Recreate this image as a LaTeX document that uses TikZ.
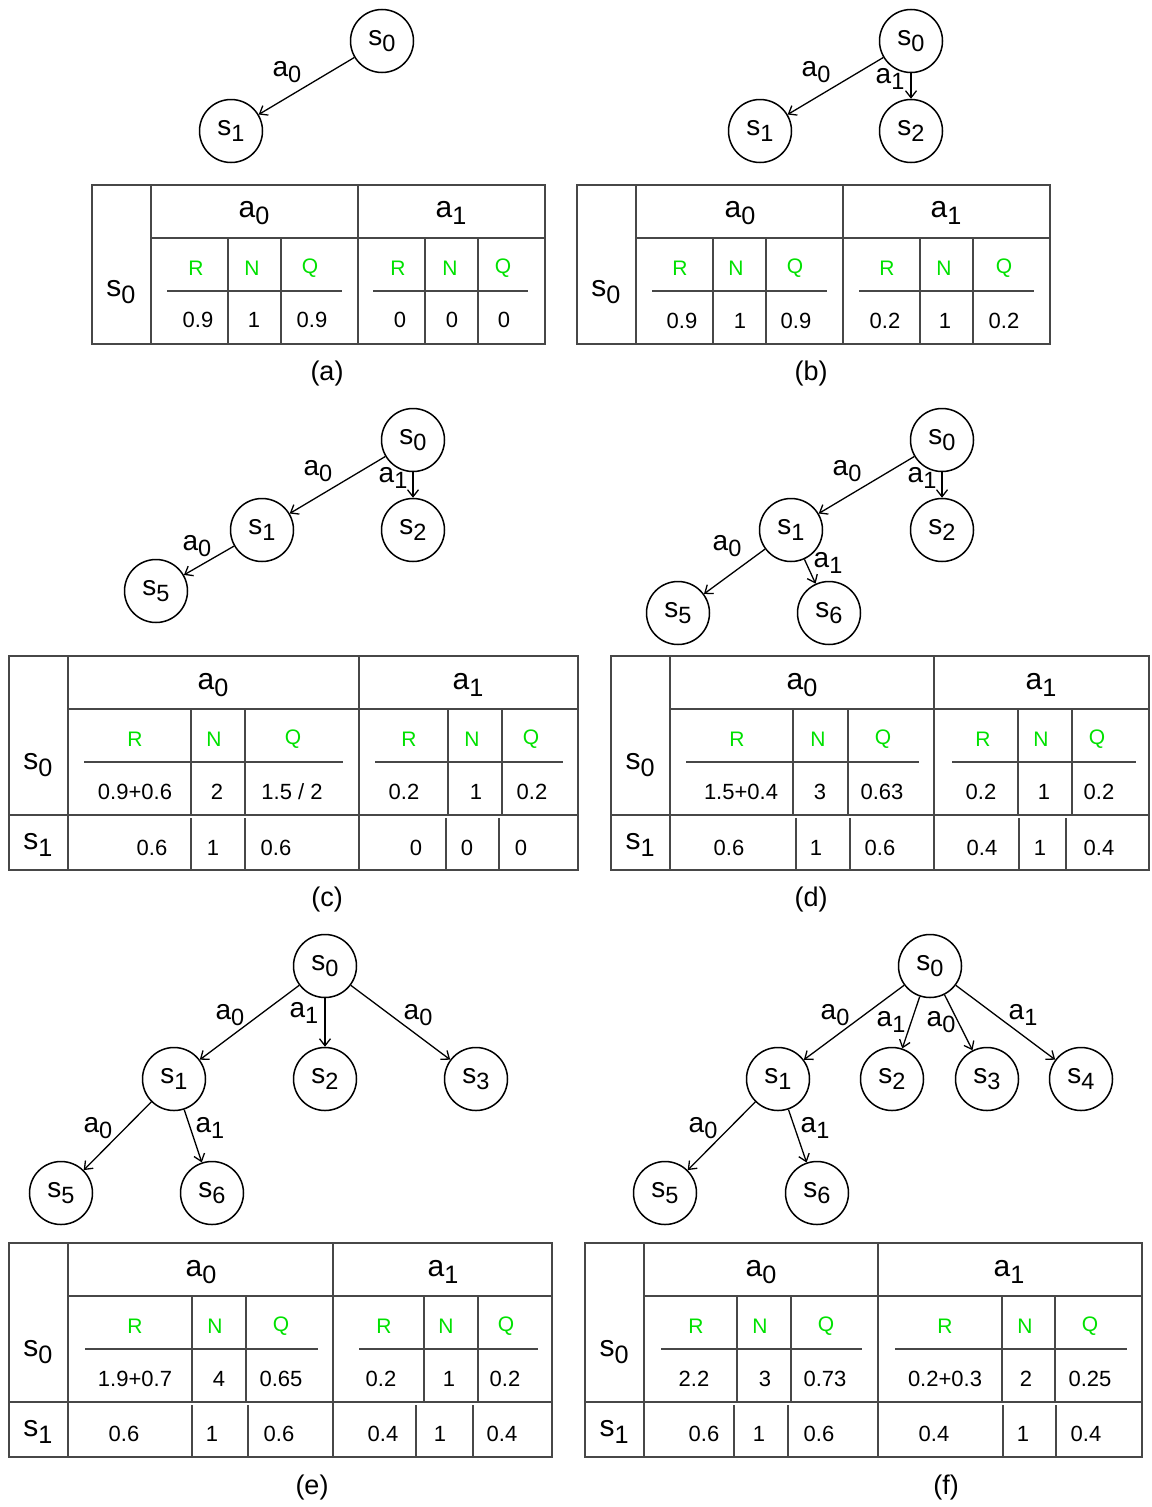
\documentclass[tikz,border=0pt]{standalone}
\usepackage{fontspec}
\setmainfont{Liberation Sans}
\usepackage{graphicx}
\usetikzlibrary{arrows.meta}
\definecolor{lg}{RGB}{0,225,0}
\newcommand\fs[1]{\fontsize{#1}{#1}\selectfont}
\newcommand\ssub[1]{\raisebox{-0.22em}{\scalebox{0.84}{#1}}}
\begin{document}
\begin{tikzpicture}[x=1pt,y=-1pt,
  st/.style={circle,draw,line width=1.5pt,minimum size=63pt,inner sep=0pt,font=\fs{28}},
  el/.style={inner sep=0pt,font=\fs{28}},
  ar/.style={line width=1.3pt,-{Straight Barb[length=7pt,width=11pt]}},
  tl/.style={line width=1.1pt,draw=black!72},
  hd/.style={inner sep=0pt,font=\fs{30}},
  rq/.style={inner sep=0pt,font=\fs{21},text=lg},
  vl/.style={inner sep=0pt,font=\fs{22}},
  capt/.style={inner sep=0pt,font=\fs{27}}]
\useasboundingbox (0,0) rectangle (1151,1507);
\fill[white] (0,0) rectangle (1151,1507);

% ================= (a) =================
\node[st] (a0) at (382,41) {s\ssub0};
\node[st] (a1) at (231,131) {s\ssub1};
\draw[ar] (a0) -- (a1);
\node[el] (la1) at (287,72) {a\ssub0};

\draw[tl] (92,185) rectangle (545,344);
\draw[tl] (151,185) -- (151,344);
\draw[tl] (358,185) -- (358,344);
\draw[tl] (151,238) -- (545,238);
\foreach \x in {228,281,425,478} \draw[tl] (\x,238) -- (\x,344);
\draw[tl] (167,291) -- (342,291);
\draw[tl] (373,291) -- (528,291);
\node[hd] (ta-h0) at (254,213) {a\ssub0};
\node[hd] (ta-h1) at (451,213) {a\ssub1};
\node[hd] (ta-s0) at (121,292) {s\ssub0};
\foreach \x/\t [count=\i] in {196/R,252/N,310/Q,398/R,450/N,503/Q}
  \node[rq] (ta-r\i) at (\x,268) {\t};
\foreach \x/\t [count=\i] in {198/0.9,254/1,312/0.9,400/0,452/0,504/0}
  \node[vl] (ta-v\i) at (\x,320) {\t};
\node[capt] (capa) at (327,374) {(a)};

% ================= (b) =================
\node[st] (b0) at (911,41) {s\ssub0};
\node[st] (b1) at (760,131) {s\ssub1};
\node[st] (b2) at (911,131) {s\ssub2};
\draw[ar] (b0) -- (b1);
\draw[ar] (b0) -- (b2);
\node[el] (lb1) at (816,72) {a\ssub0};
\node[el] (lb2) at (890,79) {a\ssub1};

\draw[tl] (577,185) rectangle (1050,344);
\draw[tl] (636,185) -- (636,344);
\draw[tl] (843,185) -- (843,344);
\draw[tl] (636,238) -- (1050,238);
\foreach \x in {713,766,920,973} \draw[tl] (\x,238) -- (\x,344);
\draw[tl] (652,291) -- (827,291);
\draw[tl] (859,291) -- (1034,291);
\node[hd] (tb-h0) at (740,213) {a\ssub0};
\node[hd] (tb-h1) at (946,213) {a\ssub1};
\node[hd] (tb-s0) at (606,292) {s\ssub0};
\foreach \x/\t [count=\i] in {680/R,736/N,795/Q,887/R,944/N,1004/Q}
  \node[rq] (tb-r\i) at (\x,268) {\t};
\foreach \x/\t [count=\i] in {682/0.9,740/1,796/0.9,885/0.2,945/1,1004/0.2}
  \node[vl] (tb-v\i) at (\x,321) {\t};
\node[capt] (capb) at (811,374) {(b)};

% ================= (c) =================
\node[st] (c0) at (413,440) {s\ssub0};
\node[st] (c1) at (262,530) {s\ssub1};
\node[st] (c2) at (413,530) {s\ssub2};
\node[st] (c5) at (156,591) {s\ssub5};
\draw[ar] (c0) -- (c1);
\draw[ar] (c0) -- (c2);
\draw[ar] (c1) -- (c5);
\node[el] (lc1) at (318,471) {a\ssub0};
\node[el] (lc2) at (393,478) {a\ssub1};
\node[el] (lc3) at (197,546) {a\ssub0};

\draw[tl] (9,656) rectangle (578,870);
\draw[tl] (68,656) -- (68,870);
\draw[tl] (359,656) -- (359,870);
\draw[tl] (68,709) -- (578,709);
\draw[tl] (9,815) -- (578,815);
\foreach \x in {191,245,448,502} \draw[tl] (\x,709) -- (\x,815);
\foreach \x in {191,245,446,499} \draw[tl] (\x,818) -- (\x,870);
\draw[tl] (84,762) -- (343,762);
\draw[tl] (375,762) -- (563,762);
\node[hd] (tc-h0) at (213,685) {a\ssub0};
\node[hd] (tc-h1) at (468,685) {a\ssub1};
\node[hd] (tc-s0) at (38,765) {s\ssub0};
\node[hd] (tc-s1) at (38,845) {s\ssub1};
\foreach \x/\t [count=\i] in {135/R,214/N,293/Q,409/R,472/N,531/Q}
  \node[rq] (tc-r\i) at (\x,739) {\t};
\foreach \x/\t [count=\i] in {135/{0.9+0.6},217/2,292/{1.5 / 2},404/0.2,476/1,532/0.2}
  \node[vl] (tc-v\i) at (\x,792) {\t};
\foreach \x/\t [count=\i] in {152/0.6,213/1,276/0.6,416/0,467/0,521/0}
  \node[vl] (tc-w\i) at (\x,848) {\t};
\node[capt] (capc) at (327,900) {(c)};

% ================= (d) =================
\node[st] (d0) at (942,440) {s\ssub0};
\node[st] (d1) at (791,530) {s\ssub1};
\node[st] (d2) at (942,530) {s\ssub2};
\node[st] (d5) at (678,613) {s\ssub5};
\node[st] (d6) at (829,613) {s\ssub6};
\draw[ar] (d0) -- (d1);
\draw[ar] (d0) -- (d2);
\draw[ar] (d1) -- (d5);
\draw[ar] (d1) -- (d6);
\node[el] (ld1) at (847,471) {a\ssub0};
\node[el] (ld2) at (922,478) {a\ssub1};
\node[el] (ld3) at (727,546) {a\ssub0};
\node[el] (ld4) at (828,563) {a\ssub1};

\draw[tl] (611,656) rectangle (1149,870);
\draw[tl] (670,656) -- (670,870);
\draw[tl] (934,656) -- (934,870);
\draw[tl] (670,709) -- (1149,709);
\draw[tl] (611,815) -- (1149,815);
\foreach \x in {793,848,1018,1072} \draw[tl] (\x,709) -- (\x,815);
\foreach \x in {796,850,1019,1066} \draw[tl] (\x,818) -- (\x,870);
\draw[tl] (686,762) -- (919,762);
\draw[tl] (952,762) -- (1136,762);
\node[hd] (td-h0) at (802,685) {a\ssub0};
\node[hd] (td-h1) at (1041,685) {a\ssub1};
\node[hd] (td-s0) at (640,765) {s\ssub0};
\node[hd] (td-s1) at (640,845) {s\ssub1};
\foreach \x/\t [count=\i] in {737/R,818/N,883/Q,983/R,1041/N,1097/Q}
  \node[rq] (td-r\i) at (\x,739) {\t};
\foreach \x/\t [count=\i] in {741/{1.5+0.4},820/3,882/0.63,981/0.2,1044/1,1099/0.2}
  \node[vl] (td-v\i) at (\x,792) {\t};
\foreach \x/\t [count=\i] in {729/0.6,816/1,880/0.6,982/0.4,1040/1,1099/0.4}
  \node[vl] (td-w\i) at (\x,848) {\t};
\node[capt] (capd) at (811,900) {(d)};

% ================= (e) =================
\node[st] (e0) at (325,966) {s\ssub0};
\node[st] (e1) at (174,1079) {s\ssub1};
\node[st] (e2) at (325,1079) {s\ssub2};
\node[st] (e3) at (476,1079) {s\ssub3};
\node[st] (e5) at (61,1193) {s\ssub5};
\node[st] (e6) at (212,1193) {s\ssub6};
\draw[ar] (e0) -- (e1);
\draw[ar] (e0) -- (e2);
\draw[ar] (e0) -- (e3);
\draw[ar] (e1) -- (e5);
\draw[ar] (e1) -- (e6);
\node[el] (le1) at (230,1015) {a\ssub0};
\node[el] (le2) at (304,1013) {a\ssub1};
\node[el] (le3) at (418,1015) {a\ssub0};
\node[el] (le4) at (98,1128) {a\ssub0};
\node[el] (le5) at (210,1128) {a\ssub1};

\draw[tl] (9,1243) rectangle (552,1457);
\draw[tl] (68,1243) -- (68,1457);
\draw[tl] (333,1243) -- (333,1457);
\draw[tl] (68,1296) -- (552,1296);
\draw[tl] (9,1402) -- (552,1402);
\foreach \x in {192,246,424,478} \draw[tl] (\x,1296) -- (\x,1402);
\foreach \x in {192,248,416,473} \draw[tl] (\x,1405) -- (\x,1457);
\draw[tl] (85,1349) -- (318,1349);
\draw[tl] (359,1349) -- (538,1349);
\node[hd] (te-h0) at (201,1272) {a\ssub0};
\node[hd] (te-h1) at (443,1272) {a\ssub1};
\node[hd] (te-s0) at (38,1352) {s\ssub0};
\node[hd] (te-s1) at (38,1432) {s\ssub1};
\foreach \x/\t [count=\i] in {135/R,215/N,281/Q,384/R,446/N,506/Q}
  \node[rq] (te-r\i) at (\x,1326) {\t};
\foreach \x/\t [count=\i] in {135/{1.9+0.7},219/4,281/0.65,381/0.2,449/1,505/0.2}
  \node[vl] (te-v\i) at (\x,1379) {\t};
\foreach \x/\t [count=\i] in {124/0.6,212/1,279/0.6,383/0.4,440/1,502/0.4}
  \node[vl] (te-w\i) at (\x,1434) {\t};
\node[capt] (cape) at (312,1487) {(e)};

% ================= (f) =================
\node[st] (f0) at (930,966) {s\ssub0};
\node[st] (f1) at (778,1079) {s\ssub1};
\node[st] (f2) at (892,1079) {s\ssub2};
\node[st] (f3) at (987,1079) {s\ssub3};
\node[st] (f4) at (1081,1079) {s\ssub4};
\node[st] (f5) at (665,1193) {s\ssub5};
\node[st] (f6) at (817,1193) {s\ssub6};
\draw[ar] (f0) -- (f1);
\draw[ar] (f0) -- (f2);
\draw[ar] (f0) -- (f3);
\draw[ar] (f0) -- (f4);
\draw[ar] (f1) -- (f5);
\draw[ar] (f1) -- (f6);
\node[el] (lf1) at (835,1015) {a\ssub0};
\node[el] (lf2) at (891,1022) {a\ssub1};
\node[el] (lf3) at (941,1022) {a\ssub0};
\node[el] (lf4) at (1023,1015) {a\ssub1};
\node[el] (lf5) at (703,1128) {a\ssub0};
\node[el] (lf6) at (815,1128) {a\ssub1};

\draw[tl] (585,1243) rectangle (1142,1457);
\draw[tl] (644,1243) -- (644,1457);
\draw[tl] (878,1243) -- (878,1457);
\draw[tl] (644,1296) -- (1142,1296);
\draw[tl] (585,1402) -- (1142,1402);
\foreach \x in {737,791,1002,1055} \draw[tl] (\x,1296) -- (\x,1402);
\foreach \x in {734,788,1003,1056} \draw[tl] (\x,1405) -- (\x,1457);
\draw[tl] (661,1349) -- (862,1349);
\draw[tl] (895,1349) -- (1127,1349);
\node[hd] (tf-h0) at (761,1272) {a\ssub0};
\node[hd] (tf-h1) at (1009,1272) {a\ssub1};
\node[hd] (tf-s0) at (614,1352) {s\ssub0};
\node[hd] (tf-s1) at (614,1432) {s\ssub1};
\foreach \x/\t [count=\i] in {696/R,760/N,826/Q,945/R,1025/N,1090/Q}
  \node[rq] (tf-r\i) at (\x,1326) {\t};
\foreach \x/\t [count=\i] in {694/2.2,765/3,825/0.73,945/{0.2+0.3},1026/2,1090/0.25}
  \node[vl] (tf-v\i) at (\x,1379) {\t};
\foreach \x/\t [count=\i] in {704/0.6,759/1,819/0.6,934/0.4,1023/1,1086/0.4}
  \node[vl] (tf-w\i) at (\x,1434) {\t};
\node[capt] (capf) at (946,1487) {(f)};
\end{tikzpicture}
\end{document}
